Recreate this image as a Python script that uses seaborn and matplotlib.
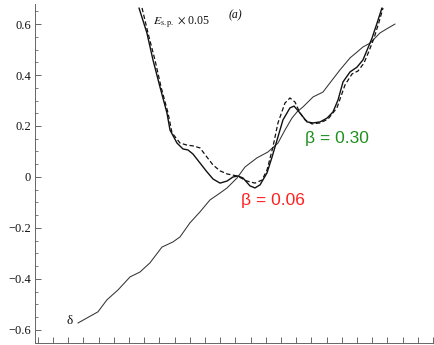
import numpy as np
import pandas as pd
import matplotlib
matplotlib.use("Agg")
import matplotlib.pyplot as plt
import seaborn as sns
from matplotlib.ticker import MultipleLocator, FuncFormatter

# ---- data ----
delta_x = [1.64, 2.96, 3.55, 4.28, 5.07, 5.72, 6.38, 7.17, 7.89, 8.36, 9.01, 9.67,
           10.33, 10.99, 11.45, 12.11, 12.63, 13.42, 14.14, 14.80, 15.26, 15.72,
           16.05, 16.45, 17.11, 17.76, 18.22, 18.88, 19.54, 20.00, 20.39, 20.86,
           21.51, 22.04, 22.50]
delta_y = [-0.573, -0.529, -0.482, -0.443, -0.392, -0.373, -0.337, -0.275, -0.255,
           -0.235, -0.180, -0.137, -0.090, -0.063, -0.043, -0.004, 0.039, 0.075,
           0.098, 0.133, 0.184, 0.231, 0.255, 0.275, 0.314, 0.333, 0.369, 0.420,
           0.467, 0.490, 0.510, 0.525, 0.565, 0.584, 0.600]

esp_solid_x = [5.66, 6.18, 6.58, 7.04, 7.50, 7.70, 8.16, 8.55, 8.88, 9.21, 9.67,
               10.13, 10.53, 10.99, 11.45, 11.84, 12.17, 12.50, 12.96, 13.29, 13.62,
               14.08, 14.41, 14.74, 15.13, 15.59, 15.86, 16.25, 16.71, 17.11, 17.57,
               18.03, 18.42, 18.75, 19.08, 19.54, 20.00, 20.39, 20.72, 20.99, 21.32,
               21.64]
esp_solid_y = [0.663, 0.565, 0.459, 0.353, 0.251, 0.184, 0.133, 0.110, 0.106, 0.090,
               0.055, 0.020, -0.008, -0.024, -0.016, 0.000, 0.004, -0.004, -0.035,
               -0.043, -0.031, 0.016, 0.078, 0.145, 0.224, 0.271, 0.278, 0.251, 0.216,
               0.212, 0.216, 0.231, 0.255, 0.302, 0.373, 0.412, 0.431, 0.459, 0.506,
               0.545, 0.604, 0.663]

esp_dash_x = [5.86, 6.25, 6.71, 7.11, 7.57, 7.83, 8.36, 8.82, 9.21, 9.67, 10.13,
              10.53, 10.99, 11.45, 12.11, 12.76, 13.29, 13.75, 14.08, 14.47, 14.80,
              15.26, 15.59, 15.92, 16.25, 16.58, 17.04, 17.57, 18.09, 18.68, 19.21,
              19.67, 20.07, 20.46, 20.79, 21.12, 21.45, 21.71]
esp_dash_y = [0.663, 0.565, 0.459, 0.353, 0.251, 0.173, 0.133, 0.125, 0.122, 0.114,
              0.078, 0.047, 0.024, 0.012, 0.004, -0.016, -0.024, -0.012, 0.027, 0.118,
              0.212, 0.290, 0.310, 0.294, 0.251, 0.224, 0.208, 0.212, 0.227, 0.271,
              0.361, 0.404, 0.416, 0.447, 0.494, 0.545, 0.608, 0.663]

ytick_values = [-0.6, -0.4, -0.2, 0.0, 0.2, 0.4, 0.6]

# ---- figure ----
sns.set_theme(style="ticks")
plt.rcParams["font.family"] = ["Liberation Serif", "DejaVu Serif"]
plt.rcParams["mathtext.fontset"] = "stix"

fig = plt.figure(figsize=(4.35, 3.45), dpi=100)
ax = fig.add_axes([0.0805, 0.006, 0.9195, 0.982])

sns.lineplot(x=delta_x, y=delta_y, ax=ax, sort=False, estimator=None,
             color="#333333", linewidth=0.75)
sns.lineplot(x=esp_solid_x, y=esp_solid_y, ax=ax, sort=False, estimator=None,
             color="#111111", linewidth=1.0)
sns.lineplot(x=esp_dash_x, y=esp_dash_y, ax=ax, sort=False, estimator=None,
             color="#111111", linewidth=0.9, linestyle=(0, (3.5, 2)))

ax.set_xlim(-1.18, 25.13)
ax.set_ylim(-0.651, 0.678)

ax.set_yticks(ytick_values)
ax.yaxis.set_major_formatter(FuncFormatter(
    lambda v, p: "0" if abs(v) < 1e-9 else ("%.1f" % v).replace("-", "\u2212")))
ax.yaxis.set_minor_locator(MultipleLocator(0.05))
ax.xaxis.set_major_locator(MultipleLocator(1))
ax.tick_params(axis="both", which="major", direction="in", length=4, width=0.7,
               color="#666666", labelsize=9, labelcolor="#111111", pad=3)
ax.tick_params(axis="both", which="minor", direction="in", length=2, width=0.6,
               color="#666666")
ax.tick_params(axis="x", labelbottom=False)

for s in ["top", "right"]:
    ax.spines[s].set_visible(False)
for s in ["left", "bottom"]:
    ax.spines[s].set_color("#666666")
    ax.spines[s].set_linewidth(0.7)

ax.text(6.58, 0.608, r"$E_{\mathrm{s.p.}}$ $\times$ 0.05", fontsize=8.5,
        ha="left", va="center", color="#111111")
ax.text(11.97, 0.635, "(a)", fontsize=8.5, style="italic", ha="center",
        va="center", color="#111111")
ax.text(1.12, -0.565, "\u03b4", fontsize=9.5, ha="center", va="center",
        color="#111111")
ax.text(18.68, 0.150, "\u03b2 = 0.30", fontsize=12.5, ha="center", va="center",
        color="#1f8f1f", family=["Liberation Sans", "DejaVu Sans"])
ax.text(14.47, -0.092, "\u03b2 = 0.06", fontsize=12.5, ha="center", va="center",
        color="#ff2020", family=["Liberation Sans", "DejaVu Sans"])

fig.savefig("out.png", dpi=100)
